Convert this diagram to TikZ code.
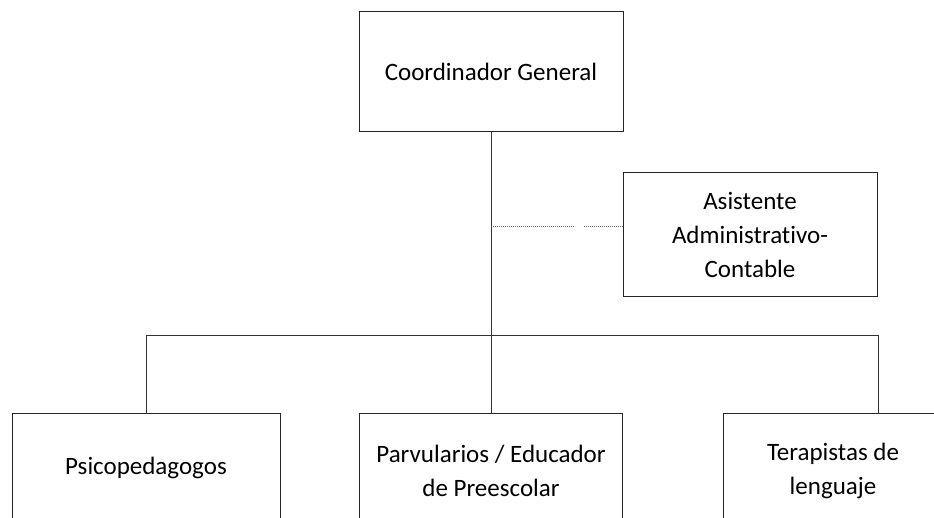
\documentclass[tikz,border=0pt]{standalone}
\usepackage{fontspec}
\setmainfont{Carlito}[Ligatures=NoCommon]
\begin{document}
\begin{tikzpicture}[x=1pt,y=-1pt,
  box/.style={draw=black!85,line width=1pt,align=center,inner sep=0pt,
    font=\fontsize{25}{34}\selectfont,text=black},
  conn/.style={draw=black!80,line width=0.9pt},
  dotconn/.style={draw=black!60,line width=0.8pt,dash pattern=on 1.2pt off 0.8pt}]
\clip (0,0) rectangle (934,518);
\fill[white] (0,0) rectangle (934,518);
\node[box,minimum width=264pt,minimum height=120pt] (coord) at (491,72) {Coordinador General};
\node[box,minimum width=254pt,minimum height=124pt] (asist) at (750,235) {Asistente\\Administrativo-\\Contable};
\node[box,minimum width=268pt,minimum height=110pt] (psico) at (146,468) {Psicopedagogos};
\node[box,minimum width=263pt,minimum height=116pt] (parv) at (491,471) {Parvularios / Educador\\de Preescolar};
\node[box,minimum width=220pt,minimum height=116pt] (terap) at (833,471) {Terapistas de\\lenguaje};
\coordinate (busL) at (146,335);
\coordinate (busR) at (878,335);
\coordinate (dotA) at (491,226);
\coordinate (gapA) at (575,226);
\coordinate (gapB) at (584,226);
\draw[conn] (coord.south) -- (parv.north);
\draw[conn] (busL) -- (busR);
\draw[conn] (busL) -- (psico.north);
\draw[conn] (busR) -- (busR |- terap.north);
\draw[dotconn] (dotA) -- (gapA);
\draw[dotconn] (gapB) -- (asist.west |- gapB);
\end{tikzpicture}
\end{document}
